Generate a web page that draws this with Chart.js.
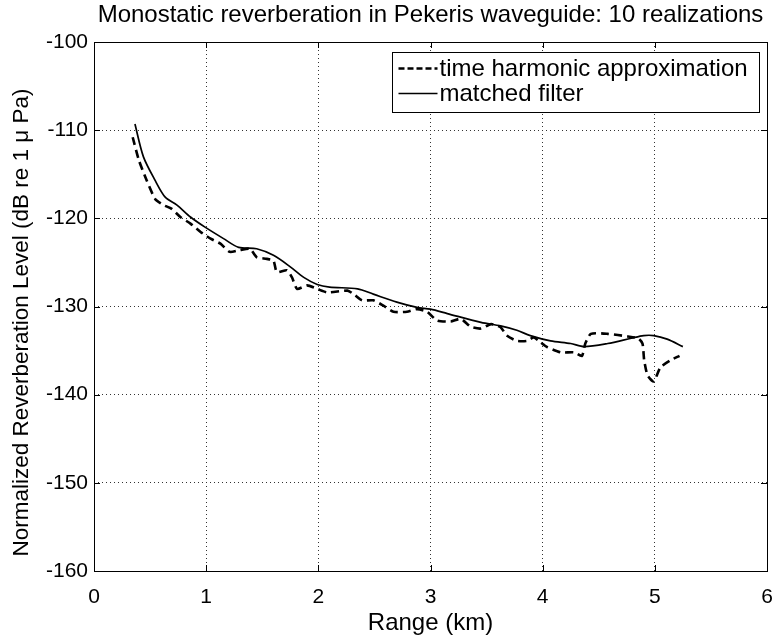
<!DOCTYPE html>
<html>
<head>
<meta charset="utf-8">
<script src="https://cdn.jsdelivr.net/npm/chart.js@4/dist/chart.umd.min.js"></script>
<style>
  html,body{margin:0;padding:0;background:#fff}
  canvas{display:block}
</style>
</head>
<body>
<canvas id="chart" width="773" height="638"></canvas>
<script>
// time harmonic approximation (dashed)
const rangeTH = [0.345,0.40,0.47,0.545,0.62,0.69,0.77,0.86,0.95,1.04,1.13,1.21,1.30,1.39,1.45,1.54,1.60,1.63,1.72,1.765,1.81,1.90,1.99,2.08,2.26,2.315,2.39,2.49,2.58,2.67,2.79,2.88,2.97,3.06,3.18,3.27,3.36,3.45,3.54,3.625,3.68,3.77,3.86,3.92,3.98,4.04,4.16,4.28,4.35,4.38,4.43,4.58,4.76,4.85,4.89,4.905,4.935,4.99,5.05,5.14,5.22];
const levelTH = [-110.8,-113.4,-115.7,-117.8,-118.5,-118.9,-119.85,-120.6,-121.55,-122.3,-122.9,-123.8,-123.6,-123.45,-124.4,-124.6,-124.8,-126.1,-125.9,-126.7,-128.0,-127.6,-128.0,-128.4,-128.2,-128.6,-129.3,-129.3,-129.9,-130.6,-130.6,-130.3,-130.6,-131.6,-131.7,-131.4,-132.3,-132.5,-132.0,-132.35,-133.3,-133.9,-133.9,-133.5,-134.05,-134.6,-135.2,-135.2,-135.6,-134.2,-133.1,-133.1,-133.4,-133.6,-134.2,-136.1,-137.8,-138.5,-136.9,-136.1,-135.6];

// matched filter (solid)
const rangeMF = [0.365,0.44,0.545,0.635,0.74,0.86,0.99,1.155,1.29,1.45,1.60,1.75,1.87,1.99,2.10,2.35,2.49,2.70,2.88,3.00,3.15,3.45,3.625,3.77,3.89,4.07,4.25,4.37,4.58,4.79,4.90,4.99,5.11,5.25];
const levelMF = [-109.3,-113.0,-115.7,-117.6,-118.5,-119.85,-121.0,-122.3,-123.3,-123.45,-124.2,-125.5,-126.7,-127.5,-127.8,-128.0,-128.6,-129.5,-130.1,-130.3,-130.8,-131.8,-132.2,-132.7,-133.3,-133.9,-134.2,-134.55,-134.2,-133.6,-133.3,-133.3,-133.7,-134.55];

const xTicks = [0,1,2,3,4,5,6];
const yTicks = [-160,-150,-140,-130,-120,-110,-100];
const seriesNames = ['time harmonic approximation','matched filter'];
const titleText = 'Monostatic reverberation in Pekeris waveguide: 10 realizations';
const xLabel = 'Range (km)';
const yLabel = 'Normalized Reverberation Level (dB re 1\u00A0\u03BC Pa)';

const FONT = '"Liberation Sans", Arial, Helvetica, sans-serif';
const zip = (xs, ys) => xs.map((x,i)=>({x, y:ys[i]}));

const framePlugin = {
  id: 'frame',
  afterDraw(chart){
    const {ctx, chartArea:a, scales} = chart;
    ctx.save();
    // axes box
    ctx.strokeStyle = '#000'; ctx.lineWidth = 1; ctx.setLineDash([]);
    ctx.strokeRect(Math.round(a.left)+0.5, Math.round(a.top)+0.5, Math.round(a.right-a.left), Math.round(a.bottom-a.top));
    // inward ticks
    const L = 6;
    ctx.beginPath();
    xTicks.forEach(v=>{
      const px = Math.round(scales.x.getPixelForValue(v))+0.5;
      ctx.moveTo(px, a.bottom); ctx.lineTo(px, a.bottom-L);
      ctx.moveTo(px, a.top); ctx.lineTo(px, a.top+L);
    });
    yTicks.forEach(v=>{
      const py = Math.round(scales.y.getPixelForValue(v))+0.5;
      ctx.moveTo(a.left, py); ctx.lineTo(a.left+L, py);
      ctx.moveTo(a.right, py); ctx.lineTo(a.right-L, py);
    });
    ctx.stroke();

    // title
    ctx.fillStyle = '#000';
    ctx.font = '24px ' + FONT;
    ctx.textAlign = 'center'; ctx.textBaseline = 'alphabetic';
    ctx.fillText(titleText, (a.left+a.right)/2, 22);

    // y axis label
    ctx.save();
    ctx.translate(22, (a.top+a.bottom)/2 + 16);
    ctx.rotate(-Math.PI/2);
    ctx.font = '22.5px ' + FONT;
    ctx.textAlign = 'center'; ctx.textBaseline = 'middle';
    ctx.fillText(yLabel, 0, 0);
    ctx.restore();

    // legend
    const bw = 367, bh = 60;
    const bx = Math.round(a.right - 8 - bw) + 0.5, by = Math.round(a.top + 10) + 0.5;
    ctx.fillStyle = '#fff';
    ctx.fillRect(bx, by, bw, bh);
    ctx.strokeStyle = '#000'; ctx.lineWidth = 1;
    ctx.strokeRect(bx, by, bw, bh);
    chart.data.datasets.forEach((ds,i)=>{
      const yy = by + 16 + i*25;
      ctx.beginPath();
      ctx.lineWidth = ds.borderWidth;
      ctx.setLineDash(ds.legendDash || []);
      ctx.moveTo(bx+6, yy); ctx.lineTo(bx+45, yy);
      ctx.stroke();
      ctx.setLineDash([]);
      ctx.fillStyle = '#000';
      ctx.font = '24px ' + FONT;
      ctx.textAlign = 'left'; ctx.textBaseline = 'middle';
      ctx.fillText(ds.label, bx+47, yy+1);
    });
    ctx.restore();
  }
};

new Chart(document.getElementById('chart').getContext('2d'), {
  type: 'line',
  data: {
    datasets: [
      { label: seriesNames[0], data: zip(rangeTH, levelTH), borderColor:'#000', borderWidth:2.6,
        borderDash:[8,5], legendDash:[6,3], pointRadius:0, tension:0.2, fill:false },
      { label: seriesNames[1], data: zip(rangeMF, levelMF), borderColor:'#000', borderWidth:1.7,
        pointRadius:0, tension:0.3, fill:false }
    ]
  },
  options: {
    responsive: false,
    animation: false,
    layout: { padding: { top: 42, right: 6, left: 0, bottom: 0 } },
    plugins: { legend:{display:false}, title:{display:false}, tooltip:{enabled:false} },
    scales: {
      x: {
        type: 'linear', min: 0, max: 6,
        afterBuildTicks: s => { s.ticks = xTicks.map(v=>({value:v})); },
        afterFit: s => { s.height = 67; s.paddingLeft = 0; s.paddingRight = 0; },
        grid: { color:'#333', lineWidth:1, drawTicks:false },
        border: { display:false, dash:[1,3] },
        ticks: { color:'#000', padding: 14, font:{ family: FONT, size: 21 } },
        title: { display:true, text: xLabel, color:'#000', padding:{top:2,bottom:0}, font:{ family: FONT, size: 24 } }
      },
      y: {
        type: 'linear', min: -160, max: -100,
        afterBuildTicks: s => { s.ticks = yTicks.map(v=>({value:v})); },
        afterFit: s => { s.width = 94; s.paddingTop = 0; s.paddingBottom = 0; },
        grid: { color:'#333', lineWidth:1, drawTicks:false },
        border: { display:false, dash:[1,3] },
        ticks: { color:'#000', padding: 6, font:{ family: FONT, size: 21 } },
        title: { display:false }
      }
    }
  },
  plugins: [framePlugin]
});
</script>
</body>
</html>
